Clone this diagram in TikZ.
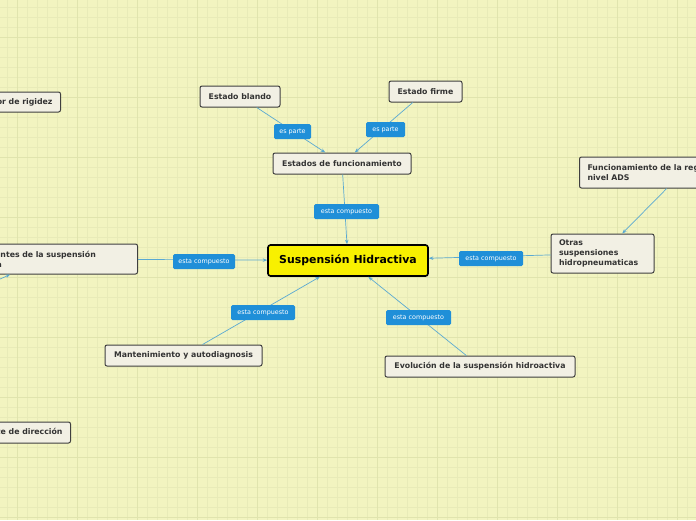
\documentclass[tikz,border=0pt]{standalone}
\usepackage{fontspec}
\setmainfont{DejaVu Sans}
\usetikzlibrary{arrows.meta}
\definecolor{bg}{HTML}{F2F4C0}
\definecolor{gridc}{HTML}{E8EBB8}
\definecolor{gridm}{HTML}{E0E4AE}
\definecolor{nodefill}{HTML}{F2F0E4}
\definecolor{nodeline}{HTML}{3F3F3F}
\definecolor{lblfill}{HTML}{1F8FD8}
\definecolor{linec}{HTML}{5AA9D2}
\definecolor{yel}{HTML}{F8F000}
\begin{document}
\begin{tikzpicture}[x=1pt,y=-1pt,
  box/.style={draw=nodeline, line width=1pt, fill=nodefill, rounded corners=2pt,
    font=\fontsize{7.8}{10}\selectfont\bfseries, text=black!80, inner xsep=8pt, inner ysep=0pt,
    minimum height=21pt},
  central/.style={draw=black, line width=1.6pt, fill=yel, rounded corners=2.5pt,
    font=\fontsize{10.9}{12}\selectfont\bfseries, text=black, minimum width=160pt, minimum height=31pt},
  lbl/.style={fill=lblfill, text=white, rounded corners=1.5pt, font=\fontsize{6.4}{7}\selectfont,
    minimum height=15pt, inner xsep=4pt, inner ysep=0pt},
  conn/.style={draw=linec, line width=0.7pt, -{Stealth[length=4.5pt,width=3.5pt]}},
  plain/.style={draw=linec, line width=0.7pt}]
\useasboundingbox (0,0) rectangle (696,520);
\clip (0,0) rectangle (696,520);
\fill[bg] (0,0) rectangle (696,520);
\foreach \x in {7,17,...,697} \draw[gridc, line width=0.5pt] (\x,0) -- (\x,520);
\foreach \y in {7,17,...,517} \draw[gridc, line width=0.5pt] (0,\y) -- (696,\y);
\foreach \x in {17,77,...,697} \draw[gridm, line width=0.7pt] (\x,0) -- (\x,520);
\foreach \y in {37,97,...,517} \draw[gridm, line width=0.7pt] (0,\y) -- (696,\y);

% nodes
\node[central] (c) at (348,260.5) {Suspensión Hidractiva};
\node[box, minimum width=138pt] (est) at (342,163.5) {Estados de funcionamiento};
\node[box, minimum width=80pt] (bl) at (240,96.5) {Estado blando};
\node[box, minimum width=73pt] (fi) at (425.5,91.5) {Estado firme};
\node[box, minimum width=157pt] (man) at (183.5,355.5) {Mantenimiento y autodiagnosis};
\node[box, minimum width=190pt] (evo) at (480,366.5) {Evolución de la suspensión hidroactiva};
\node[box, text width=87pt, align=left, minimum height=39pt] (otr) at (602.5,253.5)
  {Otras\\suspensiones\\hidropneumaticas};
\node[box, text width=190pt, align=left, minimum height=31pt, anchor=west] (ads) at (579,172.5)
  {Funcionamiento de la regulación de\\nivel ADS};
\node[box, text width=170pt, align=left, minimum height=30pt, anchor=east] (comp) at (138,259)
  {Componentes de la suspensión\\delantera};
\node[box, minimum height=20pt, anchor=east] (rig) at (61,102) {Regulador de rigidez};
\node[box, minimum height=21pt, anchor=east] (dir) at (71,432.5) {Captador de ángulo de volante de dirección};
\coordinate (offa) at (-22,289);

% connectors
\draw[conn] (bl) -- (est);
\draw[conn] (fi) -- (est);
\draw[conn] (est) -- (c);
\draw[conn] (comp) -- (c);
\draw[conn] (otr) -- (c);
\draw[conn] (man) -- (c);
\draw[conn] (evo) -- (c);
\draw[conn] (ads) -- (otr);
\draw[conn] (offa) -- (comp);

% labels
\node[lbl, minimum width=37pt] (l1) at (292.5,131.5) {es parte};
\node[lbl, minimum width=39pt] (l2) at (385.5,129.5) {es parte};
\node[lbl, minimum width=65pt] (l3) at (346.5,211.5) {esta compuesto};
\node[lbl, minimum width=62pt] (l4) at (204,261.5) {esta compuesto};
\node[lbl, minimum width=64pt] (l5) at (491,258.5) {esta compuesto};
\node[lbl, minimum width=64pt] (l6) at (263,312.5) {esta compuesto};
\node[lbl, minimum width=65pt] (l7) at (418.5,317.5) {esta compuesto};
\end{tikzpicture}
\end{document}
